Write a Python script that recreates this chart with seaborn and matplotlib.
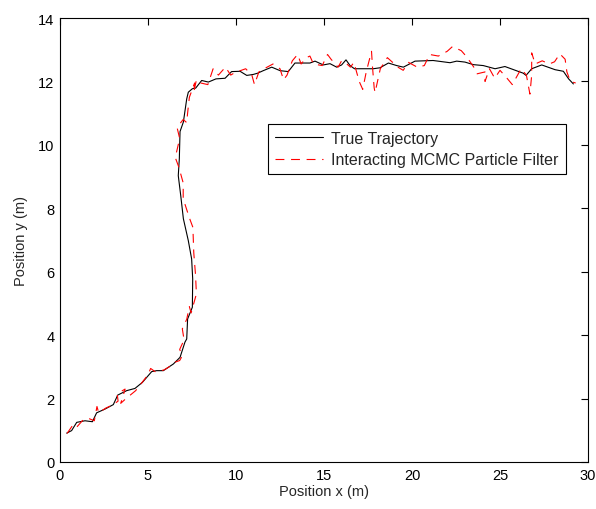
import matplotlib
matplotlib.use("Agg")
import matplotlib.pyplot as plt
import seaborn as sns
import pandas as pd

true_x = [0.38, 0.66, 0.95, 1.42, 1.84, 2.08, 2.56, 3.03, 3.28, 3.79, 4.26, 4.68, 5.21, 5.49, 5.87,
          6.44, 6.82, 7.10, 7.20, 7.25, 7.52, 7.54, 7.48, 7.29, 7.01, 6.86, 6.72, 6.78, 6.82, 7.01,
          7.20, 7.29, 7.52, 7.71, 8.05, 8.43, 8.86, 9.38, 9.75, 10.23, 10.61, 10.98, 11.23, 11.55,
          12.03, 12.50, 12.97, 13.35, 13.92, 14.20, 14.49, 14.96, 15.34, 15.72, 16.00, 16.25, 16.48,
          16.73, 17.80, 18.18, 18.66, 19.13, 19.51, 20.17, 21.20, 22.16, 22.54, 23.01, 23.48, 24.05,
          24.72, 25.28, 26.32, 26.48, 26.80, 27.37, 28.13, 28.60, 28.90, 29.17]
true_y = [0.91, 0.99, 1.25, 1.30, 1.27, 1.55, 1.67, 1.81, 2.11, 2.25, 2.32, 2.51, 2.85, 2.88, 2.88,
          3.09, 3.30, 3.78, 3.88, 4.51, 4.88, 5.77, 6.40, 6.98, 7.67, 8.40, 9.03, 9.56, 10.42, 10.72,
          11.45, 11.66, 11.77, 11.79, 12.03, 11.98, 12.08, 12.10, 12.31, 12.32, 12.19, 12.22, 12.26,
          12.34, 12.45, 12.34, 12.31, 12.58, 12.58, 12.58, 12.64, 12.52, 12.56, 12.45, 12.52, 12.68,
          12.50, 12.40, 12.40, 12.43, 12.58, 12.50, 12.45, 12.64, 12.66, 12.59, 12.64, 12.61, 12.53,
          12.50, 12.40, 12.47, 12.26, 12.19, 12.40, 12.52, 12.37, 12.32, 12.08, 11.92]

est_x = [0.40, 0.75, 0.95, 1.30, 1.60, 1.95, 2.10, 2.20, 2.60, 3.00, 3.30, 3.25, 3.70, 3.45, 3.75,
         4.30, 4.65, 5.00, 5.15, 5.40, 5.90, 6.20, 6.55, 6.80, 6.95, 6.80, 7.05, 6.95, 7.20, 7.35,
         7.45, 7.75, 7.70, 7.60, 7.55, 7.35, 7.00, 7.00, 6.75, 6.55, 6.80, 6.65, 7.00, 7.20, 7.25,
         7.35, 7.65, 7.60, 7.75, 8.00, 8.40, 8.70, 9.00, 9.40, 9.70, 10.00, 10.30, 10.55, 10.90,
         11.05, 11.30, 11.60, 12.10, 12.50, 12.70, 12.90, 13.20, 13.50, 13.70, 14.00, 14.20, 14.40,
         14.90, 15.20, 15.40, 15.80, 16.00, 16.30, 16.50, 16.70, 17.00, 17.20, 17.40, 17.70, 17.75,
         17.85, 17.90, 18.20, 18.60, 18.90, 19.20, 19.50, 19.80, 20.30, 20.70, 21.00, 21.50, 22.00,
         22.30, 22.80, 23.10, 23.50, 23.70, 24.15, 24.15, 24.40, 24.70, 25.00, 25.40, 25.70, 25.95,
         26.20, 26.50, 26.70, 26.80, 26.80, 27.00, 27.40, 27.80, 28.10, 28.40, 28.70, 28.80, 29.00,
         29.30]
est_y = [0.90, 1.18, 1.10, 1.32, 1.38, 1.30, 1.75, 1.55, 1.70, 1.80, 1.92, 2.15, 2.30, 1.85, 2.00,
         2.25, 2.50, 2.75, 2.95, 2.85, 2.90, 3.00, 3.15, 3.20, 3.35, 3.55, 3.85, 4.20, 4.50, 4.90,
         4.70, 5.30, 5.90, 6.60, 7.40, 7.70, 8.30, 8.80, 9.30, 9.60, 10.20, 10.55, 10.80, 10.70,
         11.00, 11.50, 11.95, 11.65, 12.05, 11.95, 11.90, 12.40, 12.20, 12.45, 12.20, 12.30, 12.35,
         12.40, 12.20, 11.90, 12.30, 12.40, 12.55, 12.40, 12.05, 12.20, 12.65, 12.85, 12.55, 12.75,
         12.80, 12.55, 12.50, 12.85, 12.70, 12.45, 12.65, 12.55, 12.45, 12.60, 12.00, 11.75, 12.30,
         12.95, 12.50, 11.80, 11.65, 12.40, 12.75, 12.60, 12.45, 12.35, 12.60, 12.45, 12.50, 12.85,
         12.80, 12.95, 13.10, 12.97, 12.78, 12.46, 12.24, 12.30, 12.00, 12.40, 12.10, 12.35, 12.10,
         11.90, 12.15, 12.40, 12.20, 11.60, 12.20, 12.90, 12.55, 12.65, 12.55, 12.62, 12.87, 12.70,
         12.30, 12.00, 11.95]

sns.set_theme(style="white")
plt.rcParams["font.family"] = ["Liberation Sans", "DejaVu Sans"]

fig = plt.figure(figsize=(5.96, 5.10), dpi=100)
ax = fig.add_axes([60 / 596, 47 / 510, 528 / 596, 444 / 510])

df_true = pd.DataFrame({"x": true_x, "y": true_y})
df_est = pd.DataFrame({"x": est_x, "y": est_y})

sns.lineplot(data=df_true, x="x", y="y", sort=False, estimator=None, color="black",
             linewidth=0.8, ax=ax, label="True Trajectory")
sns.lineplot(data=df_est, x="x", y="y", sort=False, estimator=None, color="#ff0000",
             linewidth=0.8, ax=ax, label="Interacting MCMC Particle Filter",
             dashes=False)
ax.lines[1].set_dashes([8, 6])

ax.set_xlim(0, 30)
ax.set_ylim(0, 14)
ax.set_xticks([0, 5, 10, 15, 20, 25, 30])
ax.set_yticks([0, 2, 4, 6, 8, 10, 12, 14])
ax.tick_params(direction="in", top=True, right=True, length=5, width=0.8,
               labelsize=10.5, colors="black", pad=4)
for s in ax.spines.values():
    s.set_color("black")
    s.set_linewidth(0.8)
ax.set_xlabel("Position x (m)", fontsize=10.5, labelpad=2)
ax.set_ylabel("Position y (m)", fontsize=10.5, labelpad=7)

leg = ax.legend(loc="upper left", bbox_to_anchor=(0.394, 0.762), fontsize=11.5,
                frameon=True, fancybox=False, edgecolor="black", framealpha=1,
                handlelength=3.0, borderpad=0.45, labelspacing=0.4, handletextpad=0.5,
                borderaxespad=0)
leg.get_frame().set_linewidth(0.8)
leg.get_lines()[1].set_dashes([8, 6])

fig.savefig("out.png", dpi=100)
